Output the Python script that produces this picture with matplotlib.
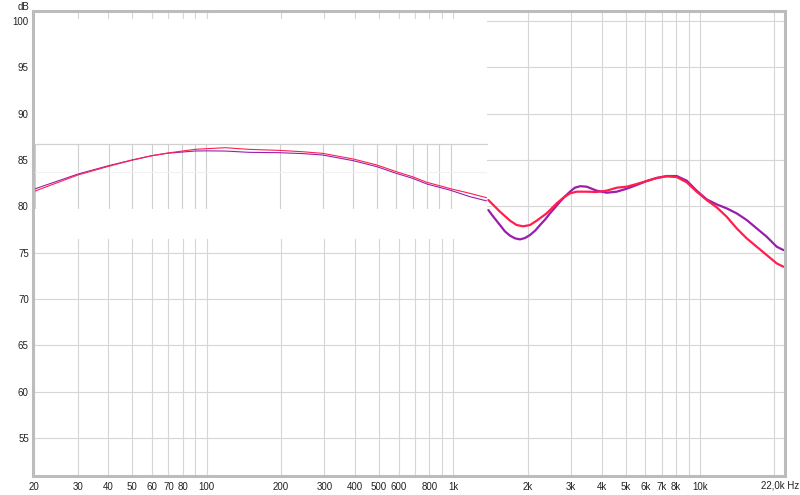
import matplotlib
matplotlib.use('Agg')
import matplotlib.pyplot as plt
from matplotlib.patches import Rectangle
from matplotlib.ticker import NullLocator

plt.rcParams['font.family'] = ['Liberation Sans', 'DejaVu Sans']

# ---------------- data ----------------
# low-frequency part (shown in the glitched overlay strip)
lf_freq = [20, 30, 40, 50, 60, 70, 80, 90, 100, 120, 150, 200, 250, 300,
           400, 500, 600, 700, 800, 900, 1000, 1200, 1400]
lf_red = [81.66, 83.40, 84.33, 85.00, 85.47, 85.77, 85.98, 86.16, 86.23, 86.34,
          86.16, 86.05, 85.90, 85.73, 85.12, 84.47, 83.75, 83.20, 82.60, 82.24,
          81.91, 81.41, 80.95]
lf_purple = [81.90, 83.50, 84.40, 85.02, 85.48, 85.75, 85.87, 85.98, 86.00, 85.98,
             85.84, 85.80, 85.70, 85.55, 84.94, 84.29, 83.57, 83.03, 82.42, 82.06,
             81.74, 81.05, 80.60]

# high-frequency part (main chart)
hf_red_freq = [1387, 1453, 1546, 1620, 1698, 1806, 1922, 2046, 2178, 2390, 2625, 2794,
               2973, 3164, 3473, 3813, 4187, 4597, 5047, 5540, 6081, 6677, 7331, 8048,
               8836, 9699, 10650, 11690, 12830, 14090, 15470, 16980, 18640, 20470, 21780]
hf_red = [80.69, 80.15, 79.43, 78.95, 78.46, 77.99, 77.85, 77.99, 78.46, 79.25, 80.33,
          80.94, 81.41, 81.59, 81.59, 81.56, 81.70, 82.02, 82.13, 82.42, 82.74, 83.07,
          83.25, 83.17, 82.60, 81.59, 80.69, 79.90, 78.89, 77.63, 76.55, 75.65, 74.75,
          73.85, 73.49]

hf_purple_freq = [1387, 1453, 1546, 1620, 1698, 1780, 1864, 1950, 2046, 2150, 2247, 2360,
                  2466, 2590, 2708, 2840, 2973, 3110, 3265, 3473, 3813, 4187, 4597, 5047,
                  5540, 6081, 6677, 7331, 8048, 8836, 9699, 10650, 11690, 12830, 14090,
                  15470, 16980, 18640, 20470, 21780]
hf_purple = [79.61, 78.89, 77.99, 77.30, 76.84, 76.55, 76.44, 76.58, 76.91, 77.40, 77.99,
             78.60, 79.25, 79.90, 80.51, 81.10, 81.59, 82.02, 82.18, 82.13, 81.70, 81.48,
             81.59, 81.91, 82.31, 82.74, 83.07, 83.28, 83.28, 82.78, 81.70, 80.76, 80.22,
             79.79, 79.25, 78.53, 77.63, 76.73, 75.65, 75.29]

grid_freqs = [20, 30, 40, 50, 60, 70, 80, 90, 100, 200, 300, 400, 500, 600, 700, 800,
              900, 1000, 2000, 3000, 4000, 5000, 6000, 7000, 8000, 9000, 10000, 20000]
freq_labels = {20: '20', 30: '30', 40: '40', 50: '50', 60: '60', 70: '70', 80: '80',
               100: '100', 200: '200', 300: '300', 400: '400', 500: '500', 600: '600',
               800: '800', 1000: '1k', 2000: '2k', 3000: '3k', 4000: '4k', 5000: '5k',
               6000: '6k', 7000: '7k', 8000: '8k', 10000: '10k'}
db_ticks = [55, 60, 65, 70, 75, 80, 85, 90, 95, 100]

RED = '#ff1f4f'
PURPLE = '#9a1eab'
GRID = '#d6d6d6'
FRAME = '#bcbcbc'

# ---------------- figure ----------------
W, H = 800, 495
fig = plt.figure(figsize=(W / 100, H / 100), dpi=100)
fig.patch.set_facecolor('white')


def px_box(x0, y0, x1, y1):
    return [x0 / W, 1 - y1 / H, (x1 - x0) / W, (y1 - y0) / H]


ax = fig.add_axes(px_box(33, 11, 785, 476))
ax.set_xscale('log')
ax.set_xlim(19.77, 22120)
ax.set_ylim(50.89, 101.10)
ax.set_xticks(grid_freqs)
ax.set_xticklabels([freq_labels.get(f, '') for f in grid_freqs])
ax.xaxis.set_minor_locator(NullLocator())
ax.set_yticks(db_ticks)
ax.set_yticklabels([str(v) for v in db_ticks])
ax.grid(True, color=GRID, lw=0.8)
ax.set_axisbelow(True)
ax.tick_params(length=0, labelsize=7, colors='#222222')
ax.tick_params(axis='x', pad=4)
ax.tick_params(axis='y', pad=3)
for s in ax.spines.values():
    s.set_color(FRAME)
    s.set_linewidth(2.2)

ax.plot(hf_purple_freq, hf_purple, color=PURPLE, lw=1.6, solid_capstyle='round',
        solid_joinstyle='round')
ax.plot(hf_red_freq, hf_red, color=RED, lw=1.6, solid_capstyle='round',
        solid_joinstyle='round')

fig.text(799 / W, 1 - 486 / H, '22,0k Hz', ha='right', va='center', fontsize=7,
         color='#222222')
fig.text(23 / W, 1 - 7 / H, 'dB', ha='center', va='center', fontsize=7, color='#222222')

# glitched white block over the upper-left part
fig.add_artist(Rectangle((35 / W, 1 - 238.5 / H), (487 - 35) / W, (238.5 - 19.5) / H,
                         transform=fig.transFigure, facecolor='white',
                         edgecolor='none', zorder=2))

# shifted strip showing the low-frequency curves
ax2 = fig.add_axes(px_box(35, 144, 487, 209), zorder=3)
ax2.set_xscale('log')
ax2.set_xlim(20.71, 1409)
ax2.set_ylim(79.72, 86.74)
ax2.set_xticks([f for f in grid_freqs if f <= 1000])
ax2.xaxis.set_minor_locator(NullLocator())
ax2.set_yticks([83.68])
ax2.xaxis.grid(True, color='#cfcfcf', lw=0.8)
ax2.yaxis.grid(True, color='#f2f2f2', lw=0.8)
ax2.set_axisbelow(True)
ax2.tick_params(length=0, labelbottom=False, labelleft=False)
for k, s in ax2.spines.items():
    s.set_visible(k == 'top')
ax2.spines['top'].set_color('#d0d0d0')
ax2.spines['top'].set_linewidth(0.9)
ax2.plot(lf_freq, lf_purple, color=PURPLE, lw=0.8)
ax2.plot(lf_freq, lf_red, color=RED, lw=0.8)

fig.savefig('out.png', dpi=100, facecolor='white')
